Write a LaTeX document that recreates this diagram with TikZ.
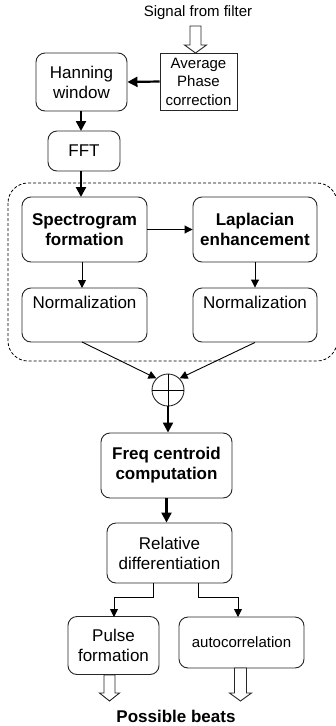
\documentclass[tikz,border=0pt]{standalone}
\usepackage{fontspec}
\setmainfont{Liberation Sans}
\usetikzlibrary{arrows.meta,calc}
\tikzset{
  blk/.style={draw=black!85, line width=0.9pt, rounded corners=9pt, align=center, inner sep=0pt,
    font=\fontsize{17}{20}\selectfont},
  sqblk/.style={draw=black!85, line width=0.9pt, align=center, inner sep=0pt,
    font=\fontsize{15}{18.5}\selectfont},
  thickarr/.style={line width=2.2pt, -{Triangle[length=10pt,width=10pt]}},
  thinarr/.style={line width=0.9pt, -{Triangle[length=8pt,width=8pt]}},
  hollow/.style={draw=black!85, line width=0.9pt, fill=white},
}
\begin{document}
\begin{tikzpicture}[x=1pt,y=-1pt]
\useasboundingbox (0,0) rectangle (335,726);
% dashed group
\draw[dash pattern=on 3pt off 2pt, line width=0.8pt, rounded corners=20pt] (8,183) rectangle (337,361);
% top
\node[font=\fontsize{15}{18}\selectfont] (sig) at (198,13) {Signal from filter};
\node[sqblk, minimum width=77pt, minimum height=57pt] (apc) at (198.5,81.5) {Average\\Phase\\correction};
\node[blk, minimum width=91pt, minimum height=58pt] (han) at (81.5,82) {Hanning\\window};
\node[blk, minimum width=72pt, minimum height=40pt] (fft) at (84,151) {FFT};
\node[blk, minimum width=125pt, minimum height=65pt, font=\fontsize{17}{20}\selectfont\bfseries] (spec) at (84.5,229.5) {Spectrogram\\formation};
\node[blk, minimum width=124pt, minimum height=65pt, font=\fontsize{17}{20}\selectfont\bfseries] (lap) at (255,229.5) {Laplacian\\enhancement};
\node[blk, minimum width=125pt, minimum height=54pt] (n1) at (84.5,315) {Normalization\\[6pt]~};
\node[blk, minimum width=124pt, minimum height=54pt] (n2) at (255,315) {Normalization\\[6pt]~};
\node[draw=black!85, line width=0.9pt, circle, minimum size=32pt, inner sep=0pt] (sum) at (168,390) {};
\draw[line width=0.9pt] (sum.north) -- (sum.south) (sum.west) -- (sum.east);
\node[blk, minimum width=131pt, minimum height=65pt, font=\fontsize{17}{20}\selectfont\bfseries] (fc) at (166.5,465.5) {Freq centroid\\computation};
\node[blk, minimum width=125pt, minimum height=60pt] (rd) at (169.5,553) {Relative\\differentiation};
\node[blk, minimum width=91pt, minimum height=58pt] (pf) at (113.5,645.5) {Pulse\\formation};
\node[blk, minimum width=125pt, minimum height=51pt, font=\fontsize{15}{18}\selectfont] (ac) at (241.5,642.5) {autocorrelation};
\node[font=\fontsize{17}{20}\selectfont\bfseries] (pb) at (176,716) {Possible beats};
% hollow arrows
\draw[hollow] (190,26) -- (201,26) -- (201,45) -- (206.5,45) -- (195.5,53) -- (184.5,45) -- (190,45) -- cycle;
\coordinate (h1) at (109.5,675);
\draw[hollow] ($(h1)+(-5.5,0)$) -- ($(h1)+(5.5,0)$) -- ($(h1)+(5.5,18)$) -- ($(h1)+(10,18)$) -- ($(h1)+(0,26)$) -- ($(h1)+(-10,18)$) -- ($(h1)+(-5.5,18)$) -- cycle;
\coordinate (h2) at (240.5,668);
\draw[hollow] ($(h2)+(-6,0)$) -- ($(h2)+(6,0)$) -- ($(h2)+(6,25)$) -- ($(h2)+(11,25)$) -- ($(h2)+(0,33)$) -- ($(h2)+(-11,25)$) -- ($(h2)+(-6,25)$) -- cycle;
% connectors
\draw[thickarr] (apc.west) -- (han.east);
\draw[thickarr] (han.south -| 81,0) -- (81,131);
\draw[thickarr] (81,171) -- (81,197);
\draw[thinarr] (spec.east) -- (lap.west);
\draw[thinarr] (82,262) -- (82,288);
\draw[thinarr] (lap.south) -- (n2.north);
\draw[thinarr] (82,342) -- (sum.135);
\draw[thinarr] (n2.south) -- (sum.45);
\draw[thickarr] (sum.south) -- (sum.south |- fc.north);
\draw[thickarr] (fc.south) -- (fc.south |- rd.north);
\draw[thinarr] (153,583) |- (114,597) -- (114,617);
\draw[thinarr] (198,583) |- (238,597) -- (238,617);
\end{tikzpicture}
\end{document}
